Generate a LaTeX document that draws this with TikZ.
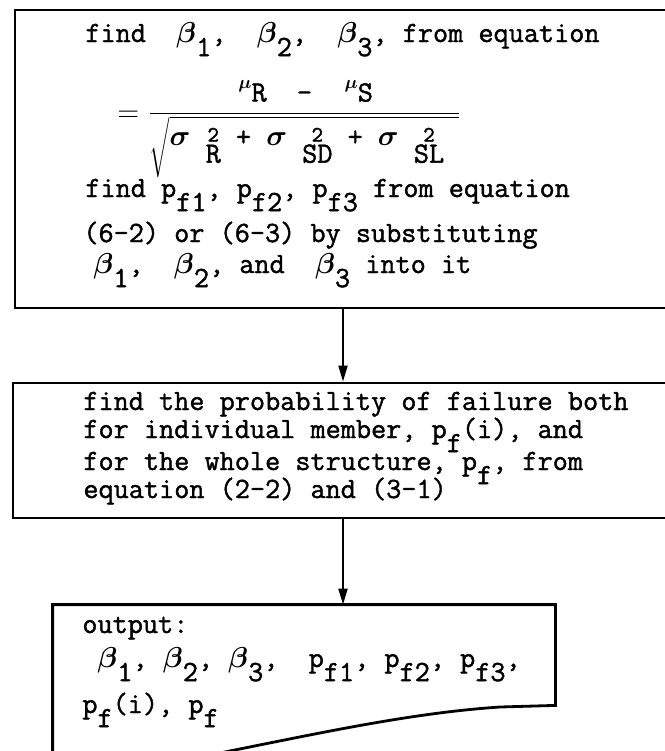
\documentclass[tikz,border=0pt]{standalone}
\usepackage{bm}
\usepackage{fontspec}
\setmonofont{Latin Modern Mono}[FakeBold=1.4]
\usepackage{tikz}
\usetikzlibrary{arrows.meta,positioning,fit,calc}

\newcommand{\dn}[1]{\raisebox{-0.48em}{#1}}
\newcommand{\bb}{$\bm{\beta}$}
\newcommand{\sg}{$\bm{\sigma}$}
\newcommand{\ud}[2]{\begin{tabular}[t]{@{}c@{}}\raisebox{0.15em}{\fontsize{11}{11}\selectfont #1}\\[-0.45em]#2\end{tabular}}
\newcommand{\mubar}[1]{\makebox[0.525em][r]{\raisebox{0.45em}{\fontsize{9}{10}\selectfont$\bm{\mu}$}}#1}

\begin{document}
\begin{tikzpicture}[
    x=0.5pt, y=-0.5pt,
    txt/.style={anchor=base west, inner sep=0pt, font=\fontsize{14.7}{15}\selectfont\ttfamily},
    box/.style={draw, line width=1.4pt, inner sep=0pt},
    arr/.style={-{Triangle[length=8pt, width=4.5pt]}, line width=1pt}
]
    \useasboundingbox (0,0) rectangle (665,751);
    \clip (0,0) rectangle (665,751);

    % Step boxes (the right edges run off the page)
    \node [box, fit={(15,10) (668,308)}] (findbeta) {};
    \node [box, fit={(13,383) (668,518)}] (findpf) {};

    % Output document, cut at the bottom of the page
    \node [inner sep=0pt, fit={(53,605) (555,705)}] (output) {};
    \coordinate (cut) at (0,770);
    \draw [line width=1.4pt] (output.west |- cut) -- (output.north west) -- (output.north east)
        -- (output.south east) -- (500,707) .. controls (410,713) and (320,733) .. (200,757);

    % Box 1: reliability indices
    \node [txt] (fb1) at (85,42) {find~~\bb\dn{1},~~\bb\dn{2},~~\bb\dn{3}, from equation};
    \node [txt] (fb2) at (117,121) {$=\displaystyle\frac{\mbox{\mubar{R}~~-~~\mubar{S}}}{\sqrt{\mbox{\sg~\ud{2}{R}~+~\sg~\ud{2}{SD}~+~\sg~\ud{2}{SL}~}}}$};
    \node [txt] (fb3) at (85,197) {find p\dn{f1}, p\dn{f2}, p\dn{f3} from equation};
    \node [txt] (fb4) at (83,242) {(6-2) or (6-3) by substituting};
    \node [txt] (fb5) at (93,273) {\bb\dn{1},~~\bb\dn{2}, and~~\bb\dn{3} into it};

    % Box 2: probability of failure
    \node [txt] (fp1) at (83,410) {find the probability of failure both};
    \node [txt] (fp2) at (83,438) {for individual member, p\dn{f}(i), and};
    \node [txt] (fp3) at (83,470) {for the whole structure, p\dn{f}, from};
    \node [txt] (fp4) at (83,498) {equation (2-2) and (3-1)};

    % Output
    \node [txt] (out1) at (82,633) {output:};
    \node [txt] (out2) at (97,667) {\bb\dn{1}, \bb\dn{2}, \bb\dn{3},~~p\dn{f1}, p\dn{f2}, p\dn{f3},};
    \node [txt] (out3) at (82,713) {p\dn{f}(i), p\dn{f}};

    % Flow
    \coordinate (ax) at (343,0);
    \draw [arr] (findbeta.south -| ax) -- (findpf.north -| ax);
    \draw [arr] (findpf.south -| ax) -- (output.north -| ax);

\end{tikzpicture}
\end{document}
